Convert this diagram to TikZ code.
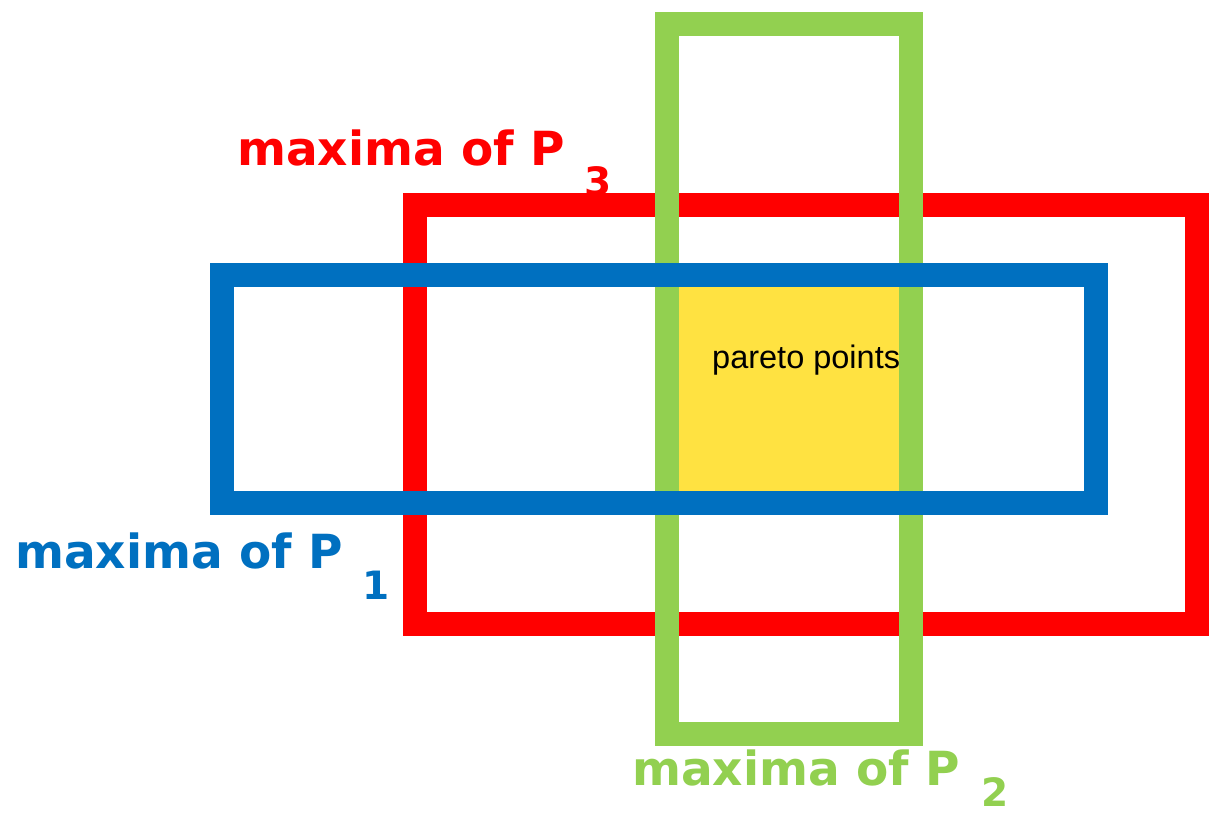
\documentclass[tikz,border=0pt]{standalone}
\usepackage{fontspec}
\newfontfamily\lblfont{DejaVu Sans}
\newfontfamily\arialfont{Liberation Sans}
\definecolor{cred}{HTML}{FF0000}
\definecolor{cblue}{HTML}{0070C0}
\definecolor{cgreen}{HTML}{92D050}
\definecolor{cyellow}{HTML}{FFE241}
\newcommand{\subdigit}[2]{\raisebox{#1}{\fontsize{39}{39}\selectfont #2}}
\begin{document}
\begin{tikzpicture}[x=1pt,y=-1pt,
  frame/.style={line width=24pt, line join=miter},
  maxlabel/.style={anchor=base west, inner sep=0pt, font=\lblfont\bfseries\fontsize{47}{50}\selectfont}]
\useasboundingbox (0,0) rectangle (1212,814);
\fill[white] (0,0) rectangle (1212,814);
% pareto region
\fill[cyellow] (679,287) rectangle (899,492);
% frames
\draw[frame, cred] (415,205) rectangle (1197,624);
\draw[frame, cgreen] (667,24) rectangle (911,734);
\draw[frame, cblue] (222,275) rectangle (1096,503);
% labels
\node[maxlabel, text=cred] (l3) at (237,165) {maxima of P\hspace{20pt}\subdigit{-30pt}{3}};
\node[maxlabel, text=cblue] (l1) at (15,568) {maxima of P\hspace{20pt}\subdigit{-31pt}{1}};
\node[maxlabel, text=cgreen] (l2) at (632,785) {maxima of P\hspace{22pt}\subdigit{-21pt}{2}};
\node[anchor=base west, inner sep=0pt, font=\arialfont\fontsize{32.5}{34}\selectfont] (pp) at (712,368) {pareto points};
\end{tikzpicture}
\end{document}
